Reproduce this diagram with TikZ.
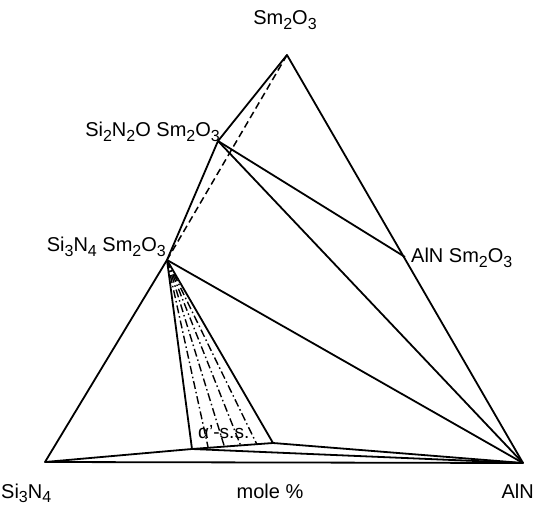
\documentclass[tikz,border=0pt]{standalone}
\usepackage{fontspec}
\setmainfont{Liberation Sans}
\usetikzlibrary{calc}
\newcommand{\dn}[1]{\raisebox{-0.4ex}{\fontsize{16}{16}\selectfont #1}}
\tikzset{
  joinln/.style={black,line width=1.8pt,line join=round},
  sjoin/.style={black,line width=1.5pt,dash pattern=on 7pt off 4pt},
  tieln/.style={black,line width=1.4pt,dash pattern=on 8pt off 3pt on 1.5pt off 3pt},
  lbl/.style={font=\fontsize{20}{22}\selectfont,inner sep=0pt},
  slbl/.style={font=\fontsize{19}{21}\selectfont,inner sep=0pt},
}
\begin{document}
\begin{tikzpicture}[x=1pt,y=-1pt]
  \useasboundingbox (0,0) rectangle (535,510);
  % corners and compounds
  \coordinate (smo) at (287,55);
  \coordinate (sin) at (45,462);
  \coordinate (aln) at (523,463);
  \coordinate (snno) at (218,141);
  \coordinate (snsm) at (167,260);
  \coordinate (alsm) at (405,257);
  \coordinate (ssa) at (192,449);
  \coordinate (ssb) at (273,443);
  % outline
  \draw[joinln] (smo) -- (snno) -- (snsm) -- (sin) -- (aln) -- cycle;
  \draw[sjoin] (smo) -- (snsm);
  % tie lines
  \draw[joinln] (snno) -- (alsm);
  \draw[joinln] (snno) -- (aln);
  \draw[joinln] (snsm) -- (aln);
  \draw[joinln] (snsm) -- (ssa);
  \draw[joinln] (snsm) -- (ssb);
  \draw[joinln] (sin) -- (ssa) -- (ssb) -- (aln);
  \draw[joinln] (ssa) -- (aln);
  \foreach \t in {0.2,0.4,0.6,0.8}
    \draw[tieln] (snsm) -- ($(ssa)!\t!(ssb)$);
  % labels
  \node[lbl,anchor=base] (tsmo) at (285,25) {Sm\dn{2}O\dn{3}};
  \node[lbl,anchor=base east] (tsnno) at (220,137) {Si\dn{2}N\dn{2}O Sm\dn{2}O\dn{3}};
  \node[lbl,anchor=base east] (tsnsm) at (166,252) {Si\dn{3}N\dn{4} Sm\dn{2}O\dn{3}};
  \node[lbl,anchor=base west] (talsm) at (411,263) {AlN Sm\dn{2}O\dn{3}};
  \node[lbl,anchor=base west] (tsin) at (1,498) {Si\dn{3}N\dn{4}};
  \node[lbl,anchor=base] (tmol) at (270,498) {mole \%};
  \node[lbl,anchor=base east] (taln) at (534,498) {AlN};
  \node[slbl,anchor=base west] (tss) at (198,438) {α'-s.s.};
\end{tikzpicture}
\end{document}
